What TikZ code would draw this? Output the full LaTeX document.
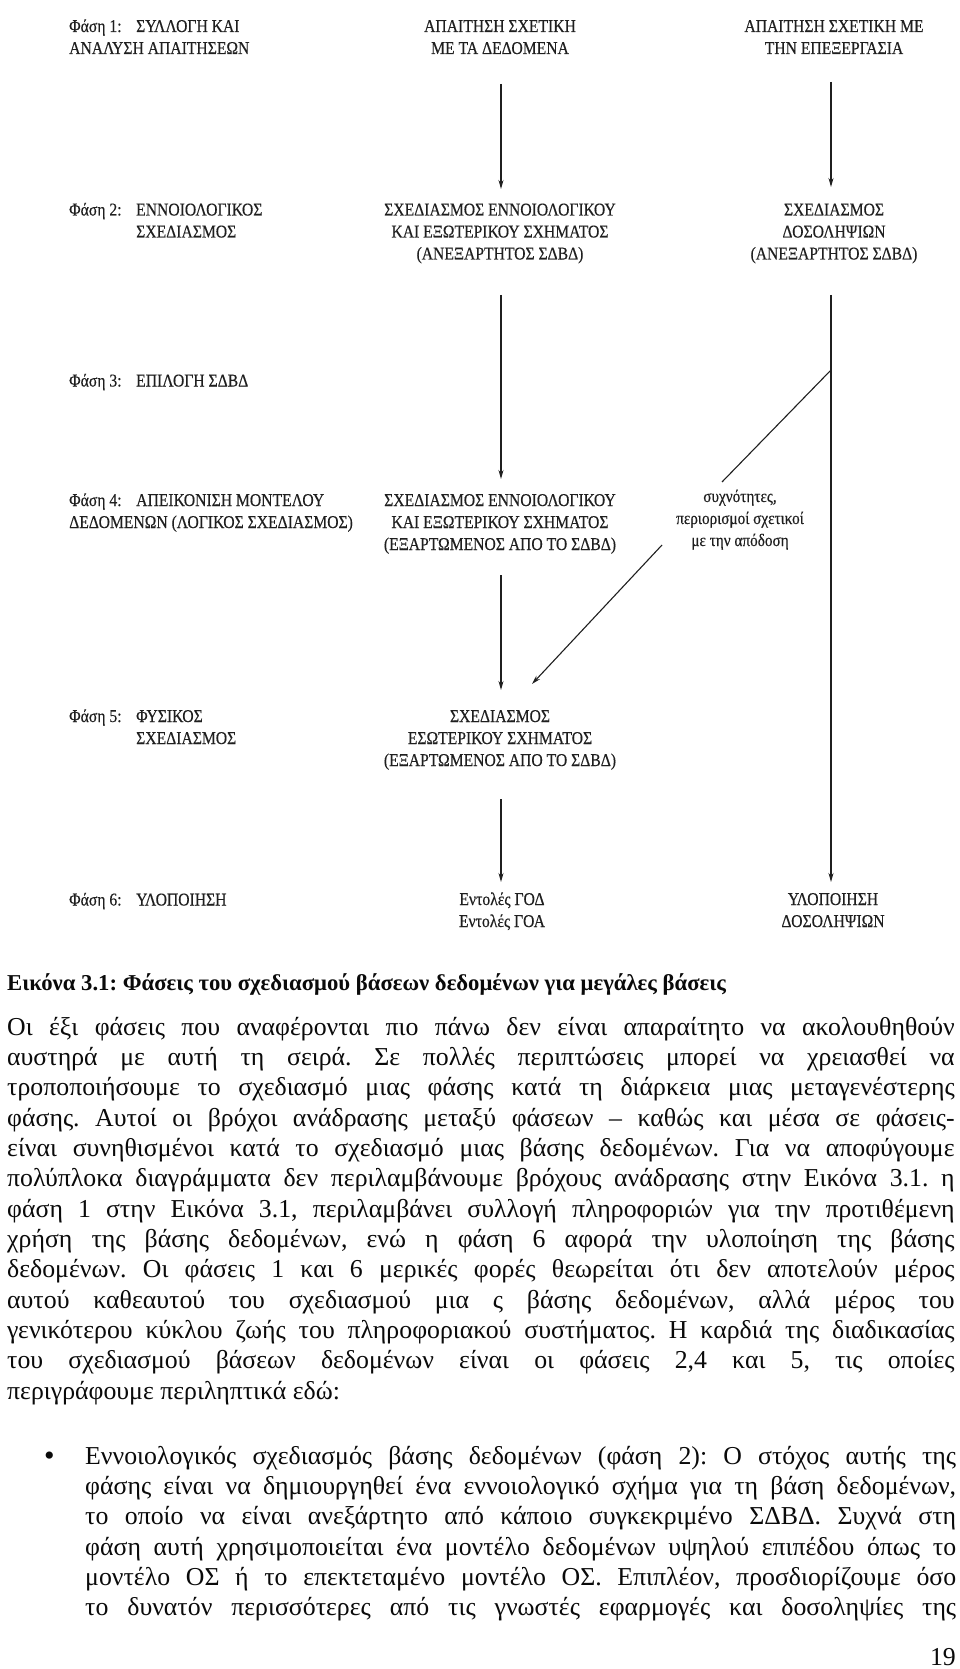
\documentclass[tikz,border=0pt]{standalone}
\usepackage{fontspec}
\setmainfont{Liberation Serif}
\newfontfamily\dg[FakeStretch=0.87,FakeBold=0.3]{Liberation Serif}
\usetikzlibrary{arrows.meta}
\definecolor{ink}{gray}{0.12}
\definecolor{bodyink}{gray}{0.04}
\tikzset{
  dtext/.style={inner sep=0pt, font=\dg\fontsize{18}{22}\selectfont, text=ink, align=center, anchor=base},
  dleft/.style={dtext, align=left, anchor=base west},
  lbl/.style={inner sep=0pt, font=\dg\fontsize{17.5}{22}\selectfont, text=ink, align=center, anchor=base},
  conn/.style={draw=ink, line width=1.1pt, -{Stealth[length=9pt,width=5pt]}},
  plain/.style={draw=ink, line width=1.1pt},
  body/.style={inner sep=0pt, anchor=base west, text=bodyink, font=\frenchspacing\fontsize{25.8}{30.33}\selectfont},
  capt/.style={inner sep=0pt, anchor=base west, text=bodyink, font=\frenchspacing\bfseries\fontsize{22.7}{26}\selectfont}
}
\newcommand{\jl}[1]{\makebox[947.5pt][s]{#1}}
\newcommand{\jb}[1]{\makebox[871pt][s]{#1}}
\begin{document}
\begin{tikzpicture}[x=1pt,y=-1pt]
\useasboundingbox (0,0) rectangle (960,1669);
\fill[white] (0,0) rectangle (960,1669);

% (multi-line nodes: the base anchor is the baseline of the LAST line)
% ---------- Phase 1
\node[dleft] (p1l) at (69,54) {\makebox[67pt][l]{Φάση 1:}ΣΥΛΛΟΓΗ ΚΑΙ\\ΑΝΑΛΥΣΗ ΑΠΑΙΤΗΣΕΩΝ};
\node[dtext] (p1m) at (500,54) {ΑΠΑΙΤΗΣΗ ΣΧΕΤΙΚΗ\\ΜΕ ΤΑ ΔΕΔΟΜΕΝΑ};
\node[dtext] (p1r) at (834,54) {ΑΠΑΙΤΗΣΗ ΣΧΕΤΙΚΗ ΜΕ\\ΤΗΝ ΕΠΕΞΕΡΓΑΣΙΑ};

% ---------- Phase 2
\node[dleft] (p2l) at (69,237.5) {\makebox[67pt][l]{Φάση 2:}ΕΝΝΟΙΟΛΟΓΙΚΟΣ\\\hspace*{67pt}ΣΧΕΔΙΑΣΜΟΣ};
\node[dtext] (p2m) at (500,259.5) {ΣΧΕΔΙΑΣΜΟΣ ΕΝΝΟΙΟΛΟΓΙΚΟΥ\\ΚΑΙ ΕΞΩΤΕΡΙΚΟΥ ΣΧΗΜΑΤΟΣ\\(ΑΝΕΞΑΡΤΗΤΟΣ ΣΔΒΔ)};
\node[dtext] (p2r) at (834,259.5) {ΣΧΕΔΙΑΣΜΟΣ\\ΔΟΣΟΛΗΨΙΩΝ\\(ΑΝΕΞΑΡΤΗΤΟΣ ΣΔΒΔ)};

% ---------- Phase 3
\node[dleft] (p3l) at (69,386.5) {\makebox[67pt][l]{Φάση 3:}ΕΠΙΛΟΓΗ ΣΔΒΔ};

% ---------- Phase 4
\node[dleft] (p4l) at (69,528) {\makebox[67pt][l]{Φάση 4:}ΑΠΕΙΚΟΝΙΣΗ ΜΟΝΤΕΛΟΥ\\ΔΕΔΟΜΕΝΩΝ (ΛΟΓΙΚΟΣ ΣΧΕΔΙΑΣΜΟΣ)};
\node[dtext] (p4m) at (500,550) {ΣΧΕΔΙΑΣΜΟΣ ΕΝΝΟΙΟΛΟΓΙΚΟΥ\\ΚΑΙ ΕΞΩΤΕΡΙΚΟΥ ΣΧΗΜΑΤΟΣ\\(ΕΞΑΡΤΩΜΕΝΟΣ ΑΠΟ ΤΟ ΣΔΒΔ)};
\node[lbl] (perf) at (740,546) {συχνότητες,\\περιορισμοί σχετικοί\\με την απόδοση};

% ---------- Phase 5
\node[dleft] (p5l) at (69,744) {\makebox[67pt][l]{Φάση 5:}ΦΥΣΙΚΟΣ\\\hspace*{67pt}ΣΧΕΔΙΑΣΜΟΣ};
\node[dtext] (p5m) at (500,766) {ΣΧΕΔΙΑΣΜΟΣ\\ΕΣΩΤΕΡΙΚΟΥ ΣΧΗΜΑΤΟΣ\\(ΕΞΑΡΤΩΜΕΝΟΣ ΑΠΟ ΤΟ ΣΔΒΔ)};

% ---------- Phase 6
\node[dleft] (p6l) at (69,905.5) {\makebox[67pt][l]{Φάση 6:}ΥΛΟΠΟΙΗΣΗ};
\node[dtext] (p6m) at (502,927) {Εντολές ΓΟΔ\\Εντολές ΓΟΑ};
\node[dtext] (p6r) at (833,927) {ΥΛΟΠΟΙΗΣΗ\\ΔΟΣΟΛΗΨΙΩΝ};

% ---------- connector end points
\coordinate (m1s) at (501,84);  \coordinate (m1e) at (501,189);
\coordinate (r1s) at (831,82);  \coordinate (r1e) at (831,187);
\coordinate (m2s) at (501,295); \coordinate (m2e) at (501,479);
\coordinate (rls) at (831,295); \coordinate (rle) at (831,882);
\coordinate (d0) at (831,370);  \coordinate (d1) at (722,482);
\coordinate (d2) at (662,545);  \coordinate (d3) at (532,684);
\coordinate (m3s) at (501,575); \coordinate (m3e) at (501,690);
\coordinate (m4s) at (501,799); \coordinate (m4e) at (501,882);

\draw[conn] (m1s) -- (m1e);
\draw[conn] (r1s) -- (r1e);
\draw[conn] (m2s) -- (m2e);
\draw[conn] (rls) -- (rle);
\draw[plain] (d0) -- (d1);
\draw[conn] (d2) -- (d3);
\draw[conn] (m3s) -- (m3e);
\draw[conn] (m4s) -- (m4e);

% ---------- caption and body text
\node[capt] (cap) at (7,990) {Εικόνα 3.1: Φάσεις του σχεδιασμού βάσεων δεδομένων για μεγάλες βάσεις};

\node[body] (t1) at (7,1035.0) {\jl{Οι έξι φάσεις που αναφέρονται πιο πάνω δεν είναι απαραίτητο να ακολουθηθούν}};
\node[body] (t2) at (7,1065.3) {\jl{αυστηρά με αυτή τη σειρά. Σε πολλές περιπτώσεις μπορεί να χρειασθεί να}};
\node[body] (t3) at (7,1095.7) {\jl{τροποποιήσουμε το σχεδιασμό μιας φάσης κατά τη διάρκεια μιας μεταγενέστερης}};
\node[body] (t4) at (7,1126.0) {\jl{φάσης. Αυτοί οι βρόχοι ανάδρασης μεταξύ φάσεων – καθώς και μέσα σε φάσεις-}};
\node[body] (t5) at (7,1156.3) {\jl{είναι συνηθισμένοι κατά το σχεδιασμό μιας βάσης δεδομένων. Για να αποφύγουμε}};
\node[body] (t6) at (7,1186.7) {\jl{πολύπλοκα διαγράμματα δεν περιλαμβάνουμε βρόχους ανάδρασης στην Εικόνα 3.1. η}};
\node[body] (t7) at (7,1217.0) {\jl{φάση 1 στην Εικόνα 3.1, περιλαμβάνει συλλογή πληροφοριών για την προτιθέμενη}};
\node[body] (t8) at (7,1247.3) {\jl{χρήση της βάσης δεδομένων, ενώ η φάση 6 αφορά την υλοποίηση της βάσης}};
\node[body] (t9) at (7,1277.6) {\jl{δεδομένων. Οι φάσεις 1 και 6 μερικές φορές θεωρείται ότι δεν αποτελούν μέρος}};
\node[body] (t10) at (7,1308.0) {\jl{αυτού καθεαυτού του σχεδιασμού μια ς βάσης δεδομένων, αλλά μέρος του}};
\node[body] (t11) at (7,1338.3) {\jl{γενικότερου κύκλου ζωής του πληροφοριακού συστήματος. Η καρδιά της διαδικασίας}};
\node[body] (t12) at (7,1368.6) {\jl{του σχεδιασμού βάσεων δεδομένων είναι οι φάσεις 2,4 και 5, τις οποίες}};
\node[body] (t13) at (7,1399.0) {περιγράφουμε περιληπτικά εδώ:};

\node[body, font=\fontsize{30}{30}\selectfont] (bul) at (44,1465) {•};
\node[body] (b1) at (85,1464.0) {\jb{Εννοιολογικός σχεδιασμός βάσης δεδομένων (φάση 2): Ο στόχος αυτής της}};
\node[body] (b2) at (85,1494.3) {\jb{φάσης είναι να δημιουργηθεί ένα εννοιολογικό σχήμα για τη βάση δεδομένων,}};
\node[body] (b3) at (85,1524.7) {\jb{το οποίο να είναι ανεξάρτητο από κάποιο συγκεκριμένο ΣΔΒΔ. Συχνά στη}};
\node[body] (b4) at (85,1555.0) {\jb{φάση αυτή χρησιμοποιείται ένα μοντέλο δεδομένων υψηλού επιπέδου όπως το}};
\node[body] (b5) at (85,1585.3) {\jb{μοντέλο ΟΣ ή το επεκτεταμένο μοντέλο ΟΣ. Επιπλέον, προσδιορίζουμε όσο}};
\node[body] (b6) at (85,1615.7) {\jb{το δυνατόν περισσότερες από τις γνωστές εφαρμογές και δοσοληψίες της}};

\node[body, anchor=base east] (pg) at (956,1665) {19};
\end{tikzpicture}
\end{document}
